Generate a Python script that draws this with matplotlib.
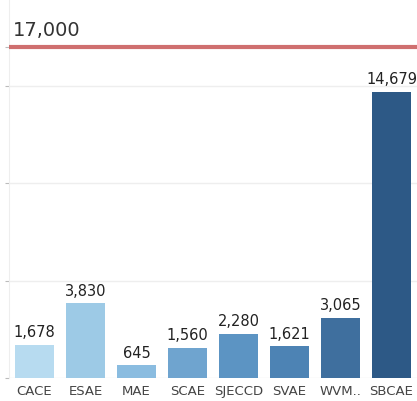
import matplotlib.pyplot as plt

categories = ['CACE', 'ESAE', 'MAE', 'SCAE', 'SJECCD', 'SVAE', 'WVM..', 'SBCAE']
values = [1678, 3830, 645, 1560, 2280, 1621, 3065, 14679]
colors = ['#b7dbf0', '#9dcae6', '#8abce0', '#6fa4cf', '#5c94c3', '#4d83b4', '#3f6f9e', '#2d5986']
target = 17000

fig = plt.figure(figsize=(4.17, 4.01), dpi=100)
ax = fig.add_axes([9 / 417, 23 / 401, 408 / 417, 378 / 401])

ax.bar(range(len(categories)), values, width=0.75, color=colors, zorder=2)
for i, v in enumerate(values):
    ax.text(i, v + 250, f'{v:,}', ha='center', va='bottom', fontsize=10.5, color='#222222')

ax.axhline(target, color='#cf6f6f', linewidth=3, zorder=3)
ax.text(0.01, target + 350, f'{target:,}', transform=ax.get_yaxis_transform(),
        ha='left', va='bottom', fontsize=14, color='#333333')

ax.set_xlim(-0.5, len(categories) - 0.5)
ax.set_ylim(0, 19400)
ax.set_yticks([0, 5000, 10000, 15000, 17000])
ax.set_yticklabels([])
ax.tick_params(axis='y', length=3, color='#bbbbbb')
ax.set_xticks(range(len(categories)))
ax.set_xticklabels(categories, fontsize=9.5, color='#444444')
ax.tick_params(axis='x', length=0, pad=5)
ax.grid(axis='y', color='#eeeeee', linewidth=1, zorder=0)
for s in ['top', 'right', 'bottom']:
    ax.spines[s].set_visible(False)
ax.spines['left'].set_color('#eeeeee')

fig.savefig('out.png', dpi=100)
